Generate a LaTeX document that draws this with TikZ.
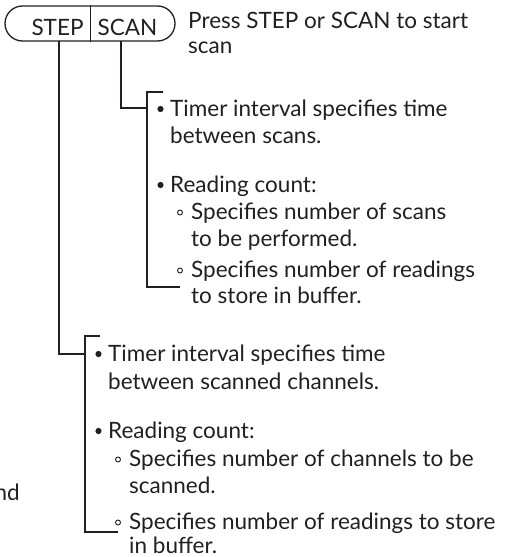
\documentclass[tikz,border=0pt]{standalone}
\usepackage{fontspec}
\setmainfont{Lato}
\usetikzlibrary{shapes.misc}
\definecolor{ink}{HTML}{231F20}
\tikzset{
  txt/.style={anchor=base west, inner sep=0pt, text=ink, font=\fontsize{22.5}{26}\selectfont},
  conn/.style={draw=ink, line width=2.2pt},
  dot/.style={fill=ink, draw=none},
  odot/.style={draw=ink, line width=0.9pt, fill=none},
}
\begin{document}
\begin{tikzpicture}[x=1pt,y=-1pt]
\useasboundingbox (0,0) rectangle (518,557);
% button
\node[draw=ink, line width=1.3pt, rounded rectangle, minimum width=170pt, minimum height=35pt, inner sep=0pt] (btn) at (90,23.5) {};
\draw[draw=ink, line width=1pt] (btn.north) -- (btn.south);
\node[txt, anchor=base] (step) at (57.5,35) {STEP};
\node[txt, anchor=base] (scan) at (127.5,35) {SCAN};
\node[txt] (press) at (188,28) {Press STEP or SCAN to start};
\node[txt] (press2) at (188,53) {scan};
% connector coordinates
\coordinate (stepfoot) at (59,41);
\coordinate (scanfoot) at (121,41);
\coordinate (ubt) at (147,92);
\coordinate (ubj) at (147,108);
\coordinate (ubb) at (147,287);
\coordinate (lbt) at (85,336);
\coordinate (lbj) at (85,354);
\coordinate (lbb) at (85,532);
\draw[conn] (scanfoot) |- (ubj);
\draw[conn] ([xshift=16pt]ubt) -- (ubt) -- (ubb) -- ([xshift=33pt]ubb);
\draw[conn] (stepfoot) |- (lbj);
\draw[conn] ([xshift=15pt]lbt) -- (lbt) -- (lbb) -- ([xshift=33pt]lbb);
% upper block
\fill[dot] (160.5,109) circle (3.1pt);
\node[txt] (u1) at (170,116) {Timer interval specifies time};
\node[txt] (u2) at (170,143) {between scans.};
\fill[dot] (160.5,185) circle (3.1pt);
\node[txt] (u3) at (170,192) {Reading count:};
\draw[odot] (180,212.5) circle (2.5pt);
\node[txt] (u4) at (191,219) {Specifies number of scans};
\node[txt] (u5) at (191,246) {to be performed.};
\draw[odot] (180,270.5) circle (2.5pt);
\node[txt] (u6) at (191,277) {Specifies number of readings};
\node[txt] (u7) at (191,303) {to store in buffer.};
% lower block
\fill[dot] (98.5,354) circle (3.1pt);
\node[txt] (l1) at (108,361) {Timer interval specifies time};
\node[txt] (l2) at (108,389) {between scanned channels.};
\fill[dot] (98.5,431) circle (3.1pt);
\node[txt] (l3) at (108,438) {Reading count:};
\draw[odot] (118,459.5) circle (2.5pt);
\node[txt] (l4) at (129,466) {Specifies number of channels to be};
\node[txt] (l5) at (129,493) {scanned.};
\draw[odot] (118,522.5) circle (2.5pt);
\node[txt] (l6) at (129,529) {Specifies number of readings to store};
\node[txt] (l7) at (129,553) {in buffer.};
% cut-off fragment
\node[txt, anchor=base east] (frag) at (20,500) {nd};
\end{tikzpicture}
\end{document}
